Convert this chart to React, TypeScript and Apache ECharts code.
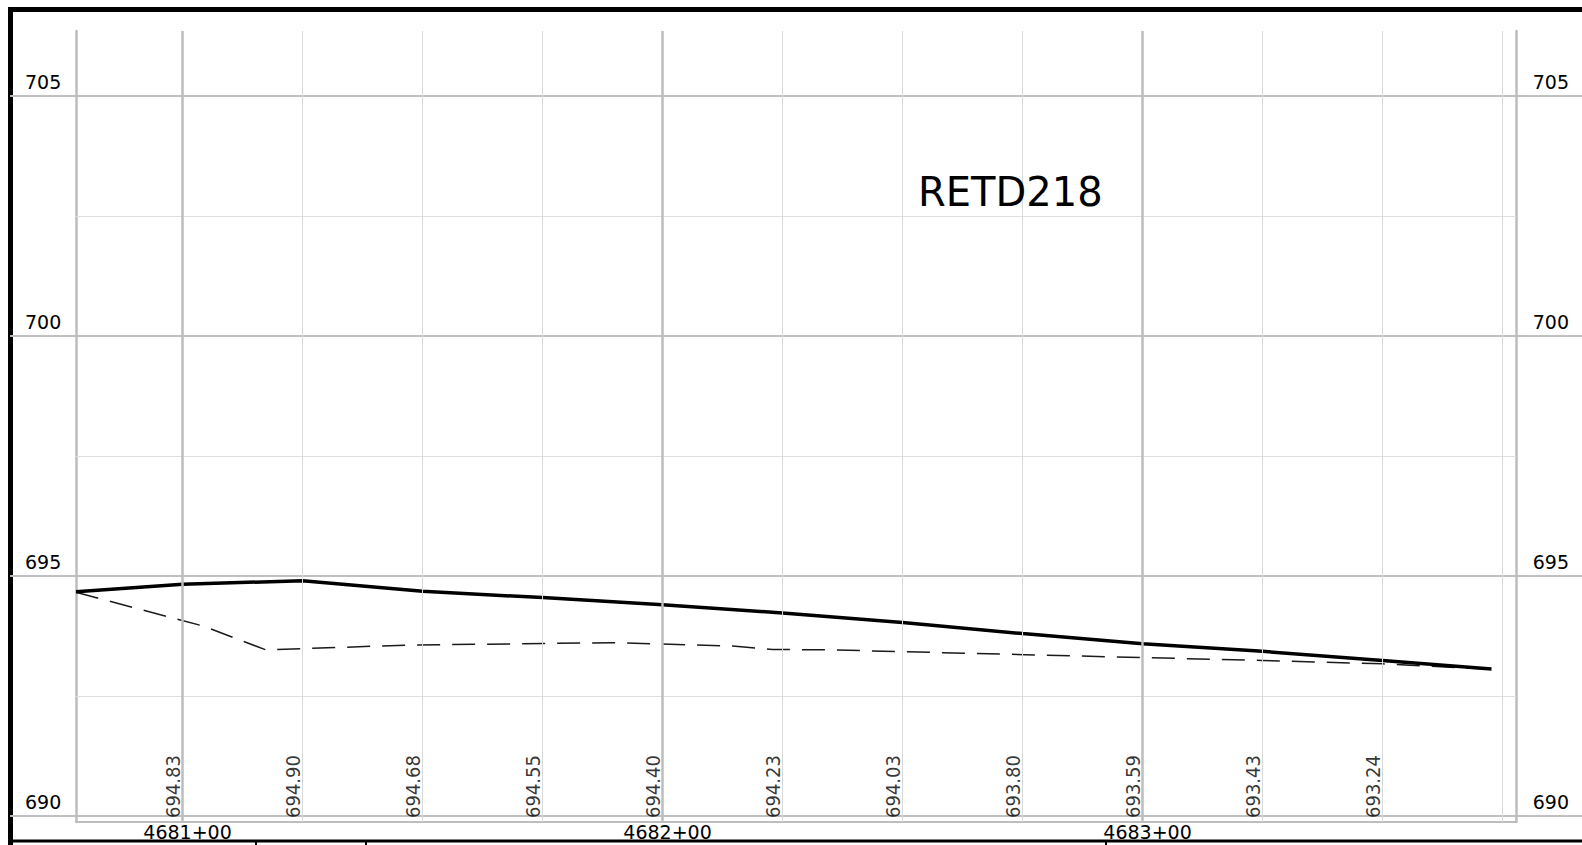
import React, { useEffect, useRef } from "react";
import * as echarts from "echarts";

// ---- axis ranges (station in feet, elevation in feet) ----
const X_MIN = 468077.8;
const X_MAX = 468377.8;
const Y_MIN = 689.875;
const Y_MAX = 706.354;
const Y_MAJOR_MIN = 690;
const Y_MAJOR_MAX = 705;
const Y_MAJOR_STEP = 5;

const Y_MINOR = [692.5, 697.5, 702.5];
const X_MAJOR = [468100, 468200, 468300];
const X_MINOR = [468125, 468150, 468175, 468225, 468250, 468275, 468325, 468350, 468375];

// ---- profile (solid) ----
const LABEL_STATIONS = [468100, 468125, 468150, 468175, 468200, 468225, 468250, 468275, 468300, 468325, 468350];
const PROFILE_ELEV = [694.83, 694.9, 694.68, 694.55, 694.4, 694.23, 694.03, 693.8, 693.59, 693.43, 693.24];
const PROFILE_START = [468077.8, 694.67];
const PROFILE_END = [468372.7, 693.06];

// ---- existing ground (dashed) ----
const EXISTING_STATIONS = [468077.8, 468104.2, 468117.4, 468146.6, 468189.6, 468214.6, 468222.9, 468235.4, 468300, 468325, 468350, 468360, 468372.7];
const EXISTING_ELEV = [694.66, 693.96, 693.46, 693.56, 693.61, 693.54, 693.47, 693.46, 693.3, 693.24, 693.17, 693.12, 693.06];

const TITLE = "RETD218";
const FONT = "DejaVu Sans";

const stationText = (v: number) => {
  const sta = Math.floor(v / 100);
  const plus = Math.round(v - sta * 100);
  return `${sta}+${String(plus).padStart(2, "0")}`;
};

export default function App() {
  const ref = useRef<HTMLDivElement>(null);
  useEffect(() => {
    if (!ref.current) return;
    const chart = echarts.init(ref.current, undefined, { renderer: "svg" });

    const profileData = [
      PROFILE_START,
      ...LABEL_STATIONS.map((s, i) => [s, PROFILE_ELEV[i]]),
      PROFILE_END,
    ];
    const existingData = EXISTING_STATIONS.map((s, i) => [s, EXISTING_ELEV[i]]);
    const labelData = LABEL_STATIONS.map((s, i) => [s, Y_MIN, PROFILE_ELEV[i]]);

    const majorLabel = {
      inside: true,
      color: "#000",
      fontSize: 19,
      fontFamily: FONT,
      verticalAlign: "bottom",
      lineHeight: 28,
    };

    chart.setOption({
      animation: false,
      backgroundColor: "#fff",
      title: {
        text: TITLE,
        left: 918,
        top: 172,
        padding: 0,
        textStyle: { fontSize: 40, fontWeight: "normal", fontFamily: FONT, color: "#000" },
      },
      grid: [
        { left: 10, right: 0, top: 96, bottom: 29, outerBoundsMode: "none", containLabel: false },
        { left: 76, right: 66, top: 31, bottom: 23, outerBoundsMode: "none", containLabel: false },
      ],
      xAxis: [
        { gridIndex: 0, type: "value", min: 0, max: 1, show: false },
        {
          gridIndex: 1,
          type: "value",
          min: X_MIN,
          max: X_MAX,
          axisLine: { show: true, onZero: false, lineStyle: { color: "#bdbdbd", width: 2 } },
          axisTick: { show: false },
          splitLine: { show: false },
          axisLabel: {
            show: true,
            customValues: X_MAJOR,
            formatter: (v: number) => stationText(v),
            margin: 0,
            color: "#000",
            fontSize: 19,
            fontFamily: FONT,
            padding: [0, 0, 0, 10],
            showMinLabel: true,
            showMaxLabel: true,
          },
        },
      ],
      yAxis: [
        {
          gridIndex: 0,
          type: "value",
          position: "left",
          min: Y_MAJOR_MIN,
          max: Y_MAJOR_MAX,
          interval: Y_MAJOR_STEP,
          axisLine: { show: false },
          axisTick: { show: false },
          splitLine: { show: true, lineStyle: { color: "#c0c0c0", width: 2 } },
          axisLabel: { ...majorLabel, margin: 15, align: "left" },
        },
        {
          gridIndex: 0,
          type: "value",
          position: "right",
          min: Y_MAJOR_MIN,
          max: Y_MAJOR_MAX,
          interval: Y_MAJOR_STEP,
          axisLine: { show: false },
          axisTick: { show: false },
          splitLine: { show: false },
          axisLabel: { ...majorLabel, margin: 13, align: "right" },
        },
        {
          gridIndex: 1,
          type: "value",
          position: "left",
          min: Y_MIN,
          max: Y_MAX,
          axisLine: { show: true, onZero: false, lineStyle: { color: "#bdbdbd", width: 2.5 } },
          axisTick: { show: false },
          axisLabel: { show: false },
          splitLine: { show: false },
        },
        {
          gridIndex: 1,
          type: "value",
          position: "right",
          min: Y_MIN,
          max: Y_MAX,
          axisLine: { show: true, onZero: false, lineStyle: { color: "#bdbdbd", width: 2.5 } },
          axisTick: { show: false },
          axisLabel: { show: false },
          splitLine: { show: false },
        },
      ],
      series: [
        {
          name: "grid",
          type: "line",
          xAxisIndex: 1,
          yAxisIndex: 2,
          data: [[X_MIN, Y_MIN]],
          showSymbol: false,
          symbol: "none",
          lineStyle: { width: 0 },
          silent: true,
          z: 1,
          markLine: {
            silent: true,
            symbol: ["none", "none"],
            label: { show: false },
            data: [
              ...Y_MINOR.map((y) => ({ yAxis: y, lineStyle: { color: "#e0e0e0", width: 1, type: "solid" } })),
              ...X_MINOR.map((x) => ({ xAxis: x, lineStyle: { color: "#d9d9d9", width: 1, type: "solid" } })),
              ...X_MAJOR.map((x) => ({ xAxis: x, lineStyle: { color: "#bdbdbd", width: 2.5, type: "solid" } })),
            ],
          },
        },
        {
          name: "Existing",
          type: "line",
          xAxisIndex: 1,
          yAxisIndex: 2,
          data: existingData,
          symbol: "none",
          z: 3,
          lineStyle: { color: "#1a1a1a", width: 1.5, type: [23, 12] },
        },
        {
          name: "Profile",
          type: "line",
          xAxisIndex: 1,
          yAxisIndex: 2,
          data: profileData,
          symbol: "none",
          z: 4,
          lineStyle: { color: "#000", width: 3.5 },
        },
        {
          name: "Labels",
          type: "scatter",
          xAxisIndex: 1,
          yAxisIndex: 2,
          data: labelData,
          symbolSize: 1,
          clip: false,
          silent: true,
          z: 5,
          itemStyle: { color: "transparent" },
          label: {
            show: true,
            position: "inside",
            rotate: 90,
            align: "left",
            verticalAlign: "bottom",
            lineHeight: 20,
            padding: [0, 0, 0, 4],
            fontSize: 20,
            fontFamily: "DejaVu Sans Condensed, DejaVu Sans",
            color: "#000",
            formatter: (p: any) => Number(p.value[2]).toFixed(2),
          },
        },
      ],
      graphic: [
        { type: "rect", silent: true, shape: { x: 8, y: 7, width: 1574, height: 5 }, style: { fill: "#000" } },
        { type: "rect", silent: true, shape: { x: 8, y: 7, width: 5, height: 838 }, style: { fill: "#000" } },
        { type: "rect", silent: true, shape: { x: 8, y: 839.5, width: 1574, height: 3 }, style: { fill: "#000" } },
        { type: "rect", silent: true, shape: { x: 255, y: 840, width: 2, height: 5 }, style: { fill: "#000" } },
        { type: "rect", silent: true, shape: { x: 365, y: 840, width: 2, height: 5 }, style: { fill: "#000" } },
        { type: "rect", silent: true, shape: { x: 1105, y: 840, width: 2, height: 5 }, style: { fill: "#000" } },
      ],
    });
    return () => chart.dispose();
  }, []);
  return (
    <div
      ref={ref}
      style={{ position: "fixed", left: 0, top: 0, width: 1582, height: 845, background: "#fff" }}
    />
  );
}
